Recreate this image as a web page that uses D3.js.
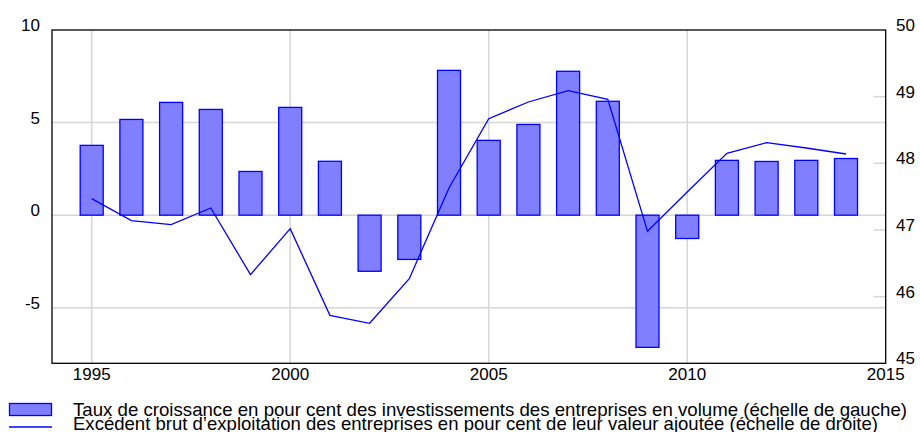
<!DOCTYPE html>
<html>
<head>
<meta charset="utf-8">
<script src="https://cdn.jsdelivr.net/npm/d3@7"></script>
<style>
  body { margin: 0; background: #fff; }
  text { font-family: "Liberation Sans", Arial, sans-serif; fill: #000; }
</style>
</head>
<body>
<div id="graphe"></div>
<script>
"use strict";

// Données
var annees = [1995, 1996, 1997, 1998, 1999, 2000, 2001, 2002, 2003, 2004,
              2005, 2006, 2007, 2008, 2009, 2010, 2011, 2012, 2013, 2014];
var investissement = [3.77, 5.17, 6.09, 5.71, 2.36, 5.82, 2.91, -3.03, -2.39, 7.82,
                      4.04, 4.90, 7.77, 6.15, -7.14, -1.26, 2.96, 2.90, 2.96, 3.06];
var excedent = [47.47, 47.14, 47.08, 47.33, 46.33, 47.02, 45.72, 45.60, 46.27, 47.63,
                48.67, 48.92, 49.09, 48.96, 46.98, 47.57, 48.15, 48.31, 48.23, 48.14];
var ticksX = [1995, 2000, 2005, 2010, 2015];
var ticksGauche = [-5, 0, 5, 10];
var ticksDroite = [45, 46, 47, 48, 49, 50];
var legendes = [
  "Taux de croissance en pour cent des investissements des entreprises en volume (échelle de gauche)",
  "Excédent brut d’exploitation des entreprises en pour cent de leur valeur ajoutée (échelle de droite)"
];

var larg = 920, haut = 432;
var gauche = 52, droite = 885.7, haut0 = 30, bas = 363.3;

var svg = d3.select("#graphe").append("svg")
  .attr("width", larg).attr("height", haut);

var x = d3.scaleLinear().domain([1994, 2015]).range([gauche, droite]);
var yG = d3.scaleLinear().domain([-8, 10]).range([bas, haut0]);
var yD = d3.scaleLinear().domain([45, 50]).range([bas, haut0]);

// Grille
svg.append("g").selectAll("line").data([-5, 0, 5]).enter().append("line")
  .attr("x1", gauche).attr("x2", droite)
  .attr("y1", function(d){ return yG(d); }).attr("y2", function(d){ return yG(d); })
  .attr("stroke", "#d6d6d6").attr("stroke-width", 1.5);
svg.append("g").selectAll("line").data([1995, 2000, 2005, 2010]).enter().append("line")
  .attr("y1", haut0).attr("y2", bas)
  .attr("x1", function(d){ return x(d); }).attr("x2", function(d){ return x(d); })
  .attr("stroke", "#d6d6d6").attr("stroke-width", 1.5);

// Petits traits de l'échelle de droite
svg.append("g").selectAll("line").data([46, 47, 48, 49]).enter().append("line")
  .attr("x1", droite - 12).attr("x2", droite)
  .attr("y1", function(d){ return yD(d); }).attr("y2", function(d){ return yD(d); })
  .attr("stroke", "#d6d6d6").attr("stroke-width", 1.5);

// Barres
var lb = 0.58 * (x(1) - x(0));
svg.append("g").selectAll("rect").data(investissement).enter().append("rect")
  .attr("x", function(d, i){ return x(annees[i]) - lb / 2; })
  .attr("y", function(d){ return yG(Math.max(0, d)); })
  .attr("width", lb)
  .attr("height", function(d){ return Math.abs(yG(d) - yG(0)); })
  .attr("fill", "#8080ff").attr("stroke", "#0000ff").attr("stroke-width", 1.3);

// Courbe
var ligne = d3.line()
  .x(function(d, i){ return x(annees[i]); })
  .y(function(d){ return yD(d); });
svg.append("path").datum(excedent)
  .attr("d", ligne)
  .attr("fill", "none").attr("stroke", "#0000ff").attr("stroke-width", 1.3);

// Cadre
svg.append("rect")
  .attr("x", gauche).attr("y", haut0)
  .attr("width", droite - gauche).attr("height", bas - haut0)
  .attr("fill", "none").attr("stroke", "#000").attr("stroke-width", 1.3);

// Libellés des axes
svg.append("g").selectAll("text").data(ticksGauche).enter().append("text")
  .attr("x", 40).attr("y", function(d){ return yG(d) + 1; })
  .attr("text-anchor", "end").attr("font-size", "17px")
  .text(function(d){ return d; });
svg.append("g").selectAll("text").data(ticksDroite).enter().append("text")
  .attr("x", 896).attr("y", function(d){ return yD(d) + 1; })
  .attr("font-size", "17px")
  .text(function(d){ return d; });
svg.append("g").selectAll("text").data(ticksX).enter().append("text")
  .attr("x", function(d){ return x(d); }).attr("y", 379.5)
  .attr("text-anchor", "middle").attr("font-size", "17px")
  .text(function(d){ return d; });

// Légende (lignes serrées comme dans l'original)
svg.append("rect")
  .attr("x", 9.5).attr("y", 403.5).attr("width", 42).attr("height", 12)
  .attr("fill", "#8080ff").attr("stroke", "#0000ff").attr("stroke-width", 1.3);
svg.append("line")
  .attr("x1", 9).attr("x2", 52).attr("y1", 427).attr("y2", 427)
  .attr("stroke", "#0000ff").attr("stroke-width", 1.5);
var largeursLeg = [834, 805];
svg.append("g").selectAll("text").data(legendes).enter().append("text")
  .attr("x", 73).attr("y", function(d, i){ return 416 + i * 14; })
  .attr("font-size", "18.5px")
  .attr("textLength", function(d, i){ return largeursLeg[i]; })
  .attr("lengthAdjust", "spacingAndGlyphs")
  .text(function(d){ return d; });
</script>
</body>
</html>
